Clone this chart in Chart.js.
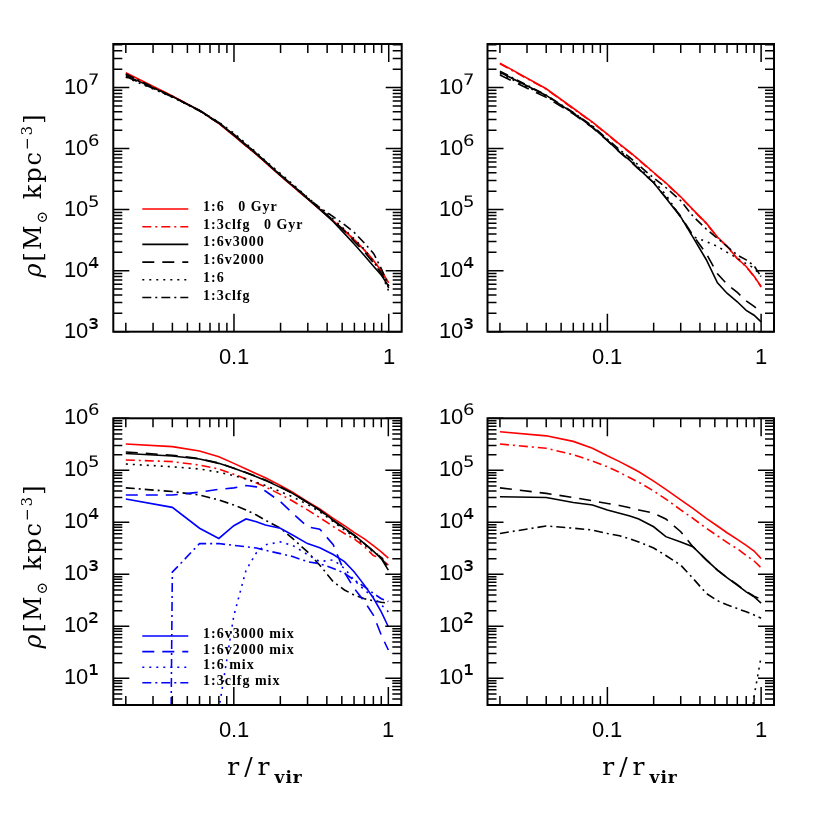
<!DOCTYPE html>
<html>
<head>
<meta charset="utf-8">
<script src="https://cdn.jsdelivr.net/npm/chart.js@4.4.1/dist/chart.umd.min.js"></script>
<style>
  @font-face { font-family: 'TickSans'; src: local('Liberation Sans'), local('LiberationSans'), local('Arial');
               unicode-range: U+0000-00B1, U+00B4-00B8, U+00BA-00FF; }
  @font-face { font-family: 'TickSans'; src: local('DejaVu Sans'), local('DejaVuSans');
               unicode-range: U+00B2-00B3, U+00B9, U+2070-209F; size-adjust: 125%; }
  html,body{margin:0;padding:0;background:#fff;}
  body{width:817px;height:817px;position:relative;overflow:hidden;}
  canvas{position:absolute;left:0;top:0;}
  .yt{position:absolute;transform:translate(-50%,-50%) rotate(-90deg);font-family:"DejaVu Serif",serif;font-size:24px;letter-spacing:2px;line-height:28px;white-space:nowrap;color:#000;}
  .yt sub,.yt sup{font-size:15px;line-height:0;}
  .xt{position:absolute;transform:translateX(-50%);font-family:"DejaVu Serif",serif;font-size:25px;letter-spacing:5px;line-height:28px;white-space:nowrap;color:#000;}
  .xt sub{font-size:17px;font-weight:bold;line-height:0;vertical-align:-8px;letter-spacing:1px;}
</style>
</head>
<body>
<canvas id="pTL" width="817" height="817"></canvas>
<canvas id="pTR" width="817" height="817"></canvas>
<canvas id="pBL" width="817" height="817"></canvas>
<canvas id="pBR" width="817" height="817"></canvas>
<div class="yt" style="left:33px;top:195px"><i>ρ</i>[M<sub>⊙</sub> kpc<sup>−3</sup>]</div>
<div class="yt" style="left:33px;top:566px"><i>ρ</i>[M<sub>⊙</sub> kpc<sup>−3</sup>]</div>
<div class="xt" style="left:265px;top:753px">r/r<sub>vir</sub></div>
<div class="xt" style="left:640px;top:753px">r/r<sub>vir</sub></div>
<script>
// ---------------- data ----------------
const R = [0.02,0.04,0.06,0.08,0.10,0.12,0.14,0.16,0.20,0.24,0.30,0.36,0.44,0.52,0.60,0.70,0.80,0.90,1.00];

const X_MIN = 0.0166, X_MAX = 1.213;
const X_TICKS = [0.1, 1];
const X_TICK_LABELS = ['0.1', '1'];

const TOP_Y_MIN = 1e3, TOP_Y_MAX = 5.16e7;
const TOP_Y_TICKS = [1e3, 1e4, 1e5, 1e6, 1e7];
const TOP_Y_LABELS = ['10³', '10⁴', '10⁵', '10⁶', '10⁷'];

const BOT_Y_MIN = 3.07, BOT_Y_MAX = 1e6;
const BOT_Y_TICKS = [1e1, 1e2, 1e3, 1e4, 1e5, 1e6];
const BOT_Y_LABELS = ['10¹', '10²', '10³', '10⁴', '10⁵', '10⁶'];

// top-left panel
const TL_red_16       = [1.74e7,7.24e6,4.17e6,2.57e6,1.62e6,1.10e6,7.94e5,5.89e5,3.55e5,2.40e5,1.48e5,1.00e5,6.46e4,4.47e4,3.16e4,2.14e4,1.45e4,9.77e3,6.31e3];
const TL_red_13clfg   = [1.70e7,7.20e6,4.20e6,2.60e6,1.63e6,1.10e6,8.00e5,5.90e5,3.60e5,2.40e5,1.50e5,1.00e5,6.50e4,4.50e4,3.20e4,2.15e4,1.45e4,9.80e3,6.20e3];
const TL_v3000        = [1.58e7,7.10e6,4.20e6,2.60e6,1.65e6,1.12e6,8.10e5,6.00e5,3.60e5,2.45e5,1.50e5,1.00e5,6.30e4,4.00e4,2.70e4,1.74e4,1.17e4,8.30e3,5.50e3];
const TL_v2000        = [1.52e7,7.00e6,4.20e6,2.65e6,1.70e6,1.15e6,8.30e5,6.10e5,3.70e5,2.50e5,1.52e5,1.02e5,6.60e4,4.40e4,3.00e4,2.00e4,1.32e4,8.90e3,5.20e3];
const TL_16           = [1.48e7,6.90e6,4.20e6,2.70e6,1.78e6,1.20e6,8.60e5,6.30e5,3.90e5,2.60e5,1.58e5,1.05e5,6.90e4,4.70e4,3.30e4,2.20e4,1.40e4,8.90e3,4.60e3];
const TL_13clfg       = [1.66e7,7.10e6,4.10e6,2.60e6,1.68e6,1.15e6,8.20e5,6.10e5,3.70e5,2.50e5,1.55e5,1.07e5,7.60e4,5.60e4,4.20e4,2.80e4,1.90e4,1.05e4,5.60e3];

// top-right panel
const TR_red_16       = [2.51e7,9.55e6,4.57e6,2.70e6,1.72e6,1.18e6,8.70e5,6.60e5,4.05e5,2.75e5,1.62e5,1.00e5,6.00e4,3.55e4,2.51e4,1.58e4,1.17e4,8.10e3,5.50e3];
const TR_red_13clfg   = [2.45e7,9.40e6,4.50e6,2.66e6,1.70e6,1.16e6,8.60e5,6.50e5,4.00e5,2.70e5,1.60e5,9.90e4,5.90e4,3.50e4,2.50e4,1.57e4,1.16e4,8.00e3,5.40e3];
const TR_v3000        = [1.78e7,7.41e6,3.80e6,2.25e6,1.36e6,8.80e5,6.40e5,4.65e5,2.75e5,1.55e5,7.59e4,3.55e4,1.51e4,6.31e3,4.27e3,3.09e3,2.24e3,1.86e3,1.45e3];
const TR_v2000        = [1.60e7,6.90e6,3.70e6,2.20e6,1.35e6,8.70e5,6.30e5,4.60e5,2.75e5,1.58e5,7.80e4,3.80e4,1.90e4,8.90e3,6.00e3,4.40e3,3.20e3,2.60e3,2.10e3];
const TR_16           = [1.70e7,7.20e6,3.85e6,2.30e6,1.40e6,9.10e5,6.70e5,4.90e5,2.95e5,1.75e5,7.50e4,3.60e4,3.00e4,2.50e4,2.00e4,1.60e4,1.30e4,1.10e4,8.00e3];
const TR_13clfg       = [1.85e7,7.50e6,3.90e6,2.35e6,1.42e6,9.60e5,7.10e5,5.30e5,3.30e5,2.30e5,1.40e5,7.80e4,4.80e4,3.40e4,2.50e4,1.80e4,1.50e4,1.20e4,8.00e3];

// bottom-left panel
const BL_red_16       = [3.2e5,2.85e5,2.35e5,1.83e5,1.36e5,1.06e5,8.6e4,7.2e4,5.1e4,3.8e4,2.5e4,1.8e4,1.19e4,8.6e3,6.4e3,4.8e3,3.55e3,2.7e3,2.05e3];
const BL_red_13clfg   = [1.58e5,1.47e5,1.26e5,1.06e5,8.4e4,6.8e4,5.7e4,4.8e4,3.45e4,2.57e4,1.73e4,1.23e4,8.3e3,6.1e3,4.8e3,3.4e3,2.3e3,2.0e3,1.5e3];
const BL_v3000        = [2.1e5,1.88e5,1.65e5,1.36e5,1.09e5,9.0e4,7.5e4,6.4e4,4.7e4,3.6e4,2.4e4,1.73e4,1.1e4,7.7e3,5.7e3,3.9e3,2.8e3,2.0e3,1.2e3];
const BL_v2000        = [2.25e5,1.95e5,1.68e5,1.38e5,1.1e5,9.1e4,7.6e4,6.5e4,4.8e4,3.6e4,2.4e4,1.7e4,1.08e4,7.5e3,5.6e3,3.9e3,2.8e3,2.1e3,1.3e3];
const BL_16           = [1.32e5,1.17e5,1.06e5,9.2e4,7.9e4,6.8e4,5.9e4,5.1e4,3.9e4,3.1e4,2.2e4,1.6e4,1.03e4,7.1e3,5.3e3,3.7e3,2.7e3,2.2e3,1.3e3];
const BL_13clfg       = [4.6e4,3.9e4,3.35e4,2.7e4,2.15e4,1.73e4,1.38e4,1.1e4,7.7e3,4.9e3,2.7e3,1.5e3,7.2e2,5.0e2,4.0e2,3.4e2,3.1e2,2.9e2,2.8e2];
const BL_v3000_mix    = [2.8e4,1.94e4,7.7e3,4.9e3,8.6e3,1.16e4,1.03e4,8.9e3,7.7e3,5.7e3,3.9e3,3.25e3,2.4e3,1.75e3,1.12e3,6.2e2,3.5e2,1.9e2,98];
const BL_v2000_mix    = [3.35e4,3.35e4,3.8e4,4.3e4,4.6e4,5.1e4,4.8e4,4.0e4,2.5e4,1.5e4,8.2e3,7.4e3,3.7e3,1.1e3,5.4e2,3.0e2,1.65e2,68,35];
const BL_16_mix       = [null,null,null,2.5,1.6e2,1.2e3,2.6e3,3.7e3,4.2e3,3.6e3,2.4e3,1.75e3,1.9e3,1.3e3,7.8e2,5.0e2,3.7e2,2.6e2,1.9e2];
const BL_13clfg_mix   = [1e-100,1.1e3,3.9e3,3.9e3,3.6e3,3.4e3,3.2e3,2.9e3,2.5e3,2.2e3,1.75e3,1.6e3,1.3e3,1.05e3,7.8e2,5.8e2,4.3e2,3.4e2,3.0e2];

// bottom-right panel
const BR_red_16       = [5.5e5,4.6e5,3.6e5,2.65e5,1.9e5,1.47e5,1.16e5,9.4e4,6.2e4,4.3e4,2.7e4,1.86e4,1.19e4,8.5e3,6.3e3,4.7e3,3.6e3,2.8e3,2.0e3];
const BR_red_13clfg   = [3.2e5,2.65e5,2.0e5,1.5e5,1.17e5,9.1e4,7.2e4,5.9e4,4.0e4,2.8e4,1.73e4,1.19e4,7.7e3,5.5e3,4.1e3,3.1e3,2.3e3,1.8e3,1.34e3];
const BR_v3000        = [3.1e4,3.0e4,2.4e4,2.15e4,1.73e4,1.49e4,1.32e4,1.16e4,8.2e3,5.3e3,4.2e3,3.4e3,1.9e3,1.2e3,8.6e2,6.2e2,4.6e2,3.7e2,2.8e2];
const BR_v2000        = [4.6e4,3.6e4,3.0e4,2.6e4,2.3e4,2.1e4,1.9e4,1.73e4,1.5e4,1.16e4,6.6e3,3.4e3,1.9e3,1.2e3,8.7e2,6.3e2,4.7e2,3.8e2,3.3e2];
const BR_16           = [null,null,null,null,null,null,null,null,null,null,null,null,null,null,null,null,0.2,4.5,26];
const BR_13clfg       = [6.1e3,8.5e3,7.7e3,7.1e3,6.1e3,5.5e3,4.8e3,4.2e3,3.2e3,2.3e3,1.5e3,8.4e2,4.3e2,3.1e2,2.6e2,2.2e2,1.9e2,1.65e2,1.43e2];

const LEGEND_TOP = ['1:6\u00a0\u00a0\u00a00 Gyr','1:3clfg\u00a0\u00a0\u00a00 Gyr','1:6v3000','1:6v2000','1:6','1:3clfg'];
const LEGEND_BOT = ['1:6v3000 mix','1:6v2000 mix','1:6 mix','1:3clfg mix'];

// ---------------- styles ----------------
const RED = '#ff0000', BLACK = '#000000', BLUE = '#0000ff';
const SOLID = [], DASHED = [12, 8], DOTTED = [2, 5], DASHDOT = [9, 4, 2, 4];
const TICK_FONT = 'TickSans, "Liberation Sans", Arial, sans-serif';

function line(vals, color, dash, label) {
  return {
    label: label,
    data: R.map((r, i) => ({x: r, y: vals[i]})),
    borderColor: color, backgroundColor: color,
    borderDash: dash, borderWidth: 1.6,
    pointRadius: 0, pointHoverRadius: 0, tension: 0, fill: false,
    spanGaps: false, clip: 0
  };
}

// frame + ticks on all four sides, and in-panel legend
const framePlugin = {
  id: 'frame',
  afterDraw(chart) {
    const {ctx, chartArea: a, scales: {x, y}} = chart;
    ctx.save();
    ctx.strokeStyle = '#000';
    ctx.lineWidth = 1.5;
    const logTicks = (mn, mx) => {
      const out = [];
      for (let d = Math.floor(Math.log10(mn)); d <= Math.ceil(Math.log10(mx)); d++) {
        for (let m = 1; m <= 9; m++) {
          const v = m * Math.pow(10, d);
          if (v >= mn * 0.9999 && v <= mx * 1.0001) out.push({v, major: m === 1});
        }
      }
      return out;
    };
    ctx.beginPath();
    logTicks(x.min, x.max).forEach(t => {
      const px = x.getPixelForValue(t.v);
      const len = t.major ? 18 : 9;
      ctx.moveTo(px, a.bottom); ctx.lineTo(px, a.bottom - len);
      ctx.moveTo(px, a.top); ctx.lineTo(px, a.top + len);
    });
    logTicks(y.min, y.max).forEach(t => {
      const py = y.getPixelForValue(t.v);
      const len = t.major ? 16 : 9;
      ctx.moveTo(a.left, py); ctx.lineTo(a.left + len, py);
      ctx.moveTo(a.right, py); ctx.lineTo(a.right - len, py);
    });
    ctx.stroke();
    ctx.lineWidth = 2;
    ctx.strokeRect(a.left, a.top, a.right - a.left, a.bottom - a.top);
    const lg = chart.options.plugins.panelLegend;
    if (lg && lg.items) {
      ctx.font = 'bold 14px "Liberation Serif", "Times New Roman", serif';
      if ('letterSpacing' in ctx) ctx.letterSpacing = '1px';
      ctx.textBaseline = 'alphabetic';
      ctx.textAlign = 'left';
      lg.items.forEach((it, i) => {
        const yy = lg.y0 + i * lg.dy;
        ctx.beginPath();
        ctx.setLineDash(it.dash);
        ctx.strokeStyle = it.color;
        ctx.lineWidth = 1.6;
        ctx.moveTo(lg.x0, yy); ctx.lineTo(lg.x1, yy);
        ctx.stroke();
        ctx.setLineDash([]);
        ctx.fillStyle = '#000';
        ctx.fillText(it.label, lg.tx, yy + 2);
      });
    }
    ctx.restore();
  }
};

const Y_W = 80, X_H = 60, W = 817, H = 817;

function makePanel(id, area, yMin, yMax, yTicks, yLabels, datasets, legend) {
  new Chart(document.getElementById(id), {
    type: 'line',
    data: {datasets},
    options: {
      responsive: false, animation: false, devicePixelRatio: 1,
      events: [],
      layout: {padding: {left: area.l - Y_W, top: area.t, right: W - area.r, bottom: H - area.b - X_H}},
      plugins: {legend: {display: false}, tooltip: {enabled: false}, panelLegend: legend || {}},
      scales: {
        x: {
          type: 'logarithmic', min: X_MIN, max: X_MAX,
          afterBuildTicks: s => { s.ticks = X_TICKS.map(v => ({value: v})); },
          afterFit: s => { s.height = X_H; },
          grid: {display: false, drawTicks: false}, border: {display: false},
          ticks: {autoSkip: false, maxRotation: 0, padding: 13, color: '#000',
                  font: {family: TICK_FONT, size: 22},
                  callback: (v, i) => X_TICK_LABELS[i]}
        },
        y: {
          type: 'logarithmic', min: yMin, max: yMax,
          afterBuildTicks: s => { s.ticks = yTicks.map(v => ({value: v})); },
          afterFit: s => { s.width = Y_W; },
          grid: {display: false, drawTicks: false}, border: {display: false},
          ticks: {autoSkip: false, padding: 14, color: '#000',
                  font: {family: TICK_FONT, size: 22},
                  callback: (v, i) => yLabels[i]}
        }
      }
    },
    plugins: [framePlugin]
  });
}

function drawAll() {
  makePanel('pTL', {l: 113.3, t: 44, r: 401.7, b: 331.7}, TOP_Y_MIN, TOP_Y_MAX, TOP_Y_TICKS, TOP_Y_LABELS, [
    line(TL_v3000, BLACK, SOLID, '1:6v3000'),
    line(TL_v2000, BLACK, DASHED, '1:6v2000'),
    line(TL_16, BLACK, DOTTED, '1:6'),
    line(TL_13clfg, BLACK, DASHDOT, '1:3clfg'),
    line(TL_red_13clfg, RED, DASHDOT, '1:3clfg 0 Gyr'),
    line(TL_red_16, RED, SOLID, '1:6 0 Gyr')
  ], {
    x0: 142.3, x1: 188.3, tx: 203, y0: 209, dy: 17.7,
    items: [
      {label: LEGEND_TOP[0], color: RED, dash: SOLID},
      {label: LEGEND_TOP[1], color: RED, dash: DASHDOT},
      {label: LEGEND_TOP[2], color: BLACK, dash: SOLID},
      {label: LEGEND_TOP[3], color: BLACK, dash: DASHED},
      {label: LEGEND_TOP[4], color: BLACK, dash: DOTTED},
      {label: LEGEND_TOP[5], color: BLACK, dash: DASHDOT}
    ]
  });

  makePanel('pTR', {l: 487.5, t: 44, r: 774, b: 331.7}, TOP_Y_MIN, TOP_Y_MAX, TOP_Y_TICKS, TOP_Y_LABELS, [
    line(TR_v3000, BLACK, SOLID, '1:6v3000'),
    line(TR_v2000, BLACK, DASHED, '1:6v2000'),
    line(TR_16, BLACK, DOTTED, '1:6'),
    line(TR_13clfg, BLACK, DASHDOT, '1:3clfg'),
    line(TR_red_13clfg, RED, DASHDOT, '1:3clfg 0 Gyr'),
    line(TR_red_16, RED, SOLID, '1:6 0 Gyr')
  ]);

  makePanel('pBL', {l: 113.3, t: 418.3, r: 401.3, b: 705}, BOT_Y_MIN, BOT_Y_MAX, BOT_Y_TICKS, BOT_Y_LABELS, [
    line(BL_v3000_mix, BLUE, SOLID, '1:6v3000 mix'),
    line(BL_v2000_mix, BLUE, DASHED, '1:6v2000 mix'),
    line(BL_16_mix, BLUE, DOTTED, '1:6 mix'),
    line(BL_13clfg_mix, BLUE, DASHDOT, '1:3clfg mix'),
    line(BL_v3000, BLACK, SOLID, '1:6v3000'),
    line(BL_v2000, BLACK, DASHED, '1:6v2000'),
    line(BL_16, BLACK, DOTTED, '1:6'),
    line(BL_13clfg, BLACK, DASHDOT, '1:3clfg'),
    line(BL_red_13clfg, RED, DASHDOT, '1:3clfg 0 Gyr'),
    line(BL_red_16, RED, SOLID, '1:6 0 Gyr')
  ], {
    x0: 142.3, x1: 188.3, tx: 203, y0: 636, dy: 15.6,
    items: [
      {label: LEGEND_BOT[0], color: BLUE, dash: SOLID},
      {label: LEGEND_BOT[1], color: BLUE, dash: DASHED},
      {label: LEGEND_BOT[2], color: BLUE, dash: DOTTED},
      {label: LEGEND_BOT[3], color: BLUE, dash: DASHDOT}
    ]
  });

  makePanel('pBR', {l: 487.5, t: 418.3, r: 774, b: 705}, BOT_Y_MIN, BOT_Y_MAX, BOT_Y_TICKS, BOT_Y_LABELS, [
    line(BR_v3000, BLACK, SOLID, '1:6v3000'),
    line(BR_v2000, BLACK, DASHED, '1:6v2000'),
    line(BR_16, BLACK, DOTTED, '1:6'),
    line(BR_13clfg, BLACK, DASHDOT, '1:3clfg'),
    line(BR_red_13clfg, RED, DASHDOT, '1:3clfg 0 Gyr'),
    line(BR_red_16, RED, SOLID, '1:6 0 Gyr')
  ]);
}

let drawn = false;
function go() { if (!drawn) { drawn = true; drawAll(); } }
if (document.fonts && document.fonts.load) {
  Promise.all([
    document.fonts.load('22px TickSans', '0.1 10¹²³⁴⁵⁶⁷'),
    document.fonts.load('bold 14px "Liberation Serif"', '1:6v3000 Gyr')
  ]).then(go, go);
  setTimeout(go, 1500);
} else {
  go();
}
</script>
</body>
</html>
